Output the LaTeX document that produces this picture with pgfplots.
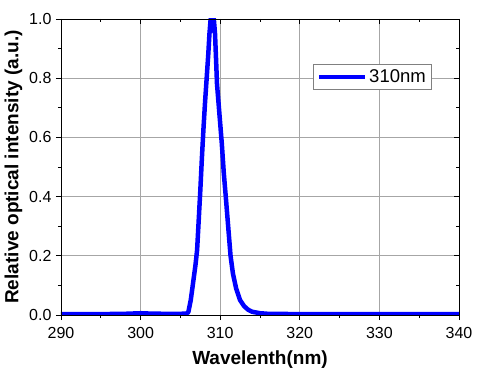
\documentclass[border=0pt]{standalone}
\usepackage{pgfplots}
\pgfplotsset{compat=1.18}
\usepackage{fontspec}
\setmainfont{Liberation Sans}
\begin{document}
\begin{tikzpicture}
\useasboundingbox (-61pt,-60pt) rectangle (419pt,315pt);
\begin{axis}[
  scale only axis, width=398pt, height=296pt,
  xmin=290, xmax=340, ymin=0, ymax=1.0,
  xtick={290,300,...,340}, ytick={0,0.2,...,1.0},
  minor x tick num=1, minor y tick num=1,
  xtick pos=left, ytick pos=left, tick align=outside,
  major tick length=5pt, minor tick length=3pt,
  grid=major, major grid style={gray!70, line width=0.6pt},
  axis line style={line width=0.8pt},
  tick style={line width=0.8pt, black},
  /pgf/number format/assume math mode=true,
  /pgf/number format/fixed, /pgf/number format/fixed zerofill, /pgf/number format/precision=1,
  xticklabel style={/pgf/number format/precision=0, /pgf/number format/fixed zerofill=false, yshift=-4pt},
  yticklabel style={xshift=-1pt},
  tick label style={font=\fontsize{16}{16}\selectfont},
  xlabel={\textbf{Wavelenth(nm)}}, ylabel={\textbf{Relative optical intensity (a.u.)}},
  label style={font=\fontsize{19}{19}\selectfont},
  xlabel style={yshift=-5pt}, ylabel style={yshift=0pt},
  legend style={at={(0.633,0.848)}, anchor=north west, draw=gray, line width=0.6pt, font=\fontsize{18.5}{18.5}\selectfont, inner sep=3.5pt},
  legend cell align=left,
  legend image code/.code={\draw[#1, line width=4.5pt] (0pt,0pt) -- (46pt,0pt);},
]
\addplot[blue, line width=4.5pt, line join=round] coordinates {
(290,0.003)(295,0.003)(298,0.004)(299,0.005)(300,0.006)(301,0.005)(303,0.004)(305,0.004)
(305.8,0.005)(306.0,0.01)(306.3,0.05)(306.6,0.11)(306.9,0.17)(307.1,0.22)(307.3,0.32)
(307.5,0.42)(307.7,0.53)(307.9,0.63)(308.1,0.72)(308.3,0.80)(308.5,0.88)
(308.65,0.95)(308.8,1.0)(308.95,0.98)(309.05,0.96)(309.2,1.0)(309.35,0.95)(309.5,0.85)
(309.6,0.78)(309.9,0.68)(310.2,0.58)(310.45,0.48)(310.7,0.40)(311.0,0.30)(311.3,0.20)
(311.6,0.14)(312.0,0.09)(312.5,0.05)(313.0,0.03)(313.5,0.018)(314.0,0.011)
(315.0,0.006)(316,0.004)(320,0.003)(330,0.003)(340,0.003)
};
\addlegendentry{310nm}
\end{axis}
\begin{axis}[
  scale only axis, width=398pt, height=296pt,
  xmin=290, xmax=340, ymin=0, ymax=1.0,
  xtick={290,300,...,340}, ytick={0,0.2,...,1.0},
  minor x tick num=1, minor y tick num=1,
  xtick pos=right, ytick pos=right, tick align=inside,
  major tick length=5pt, minor tick length=3pt,
  xticklabels={}, yticklabels={},
  axis line style={line width=0.8pt},
  tick style={line width=0.8pt, black},
]
\end{axis}
\end{tikzpicture}
\end{document}
